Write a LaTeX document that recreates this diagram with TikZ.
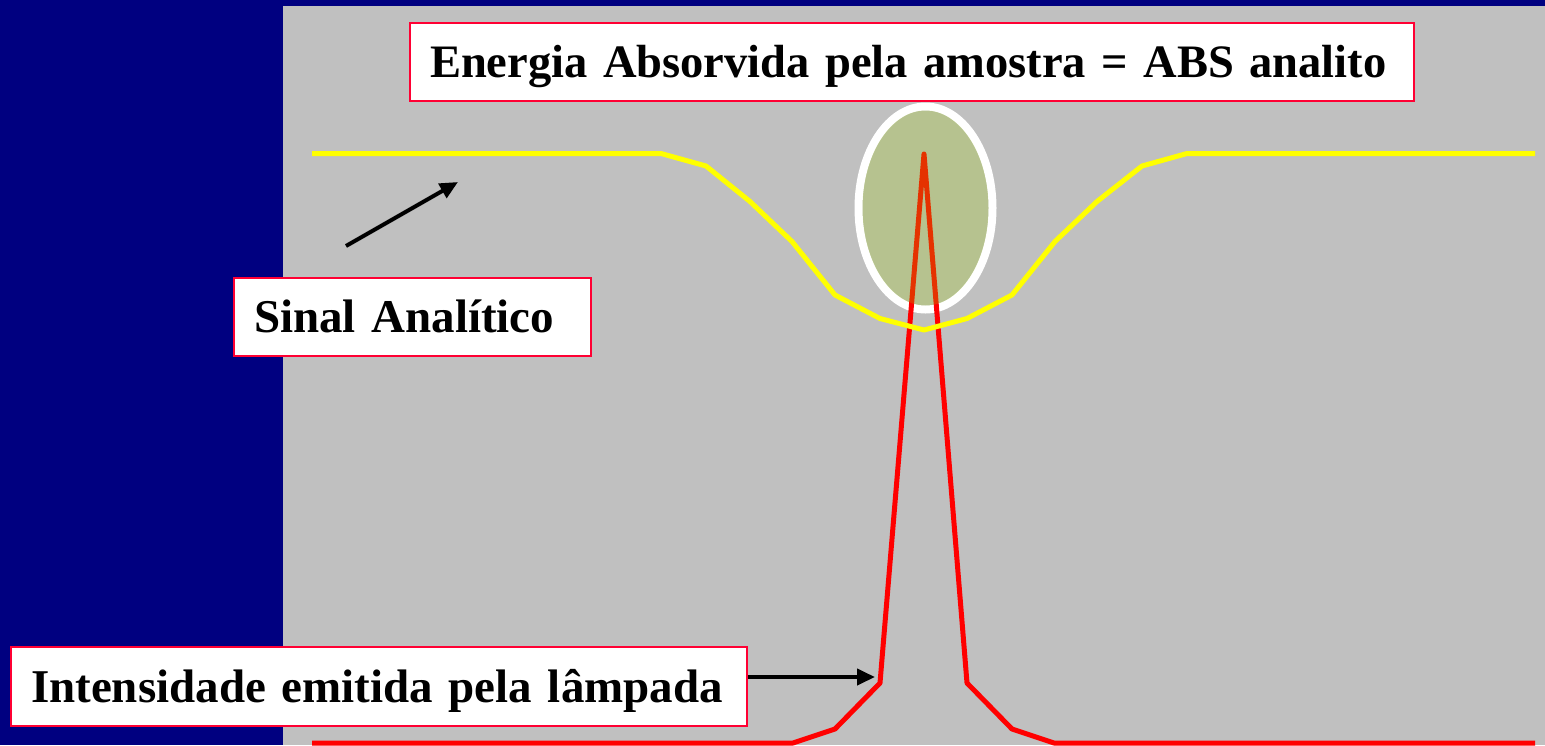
\documentclass[tikz,border=0pt]{standalone}
\usepackage{fontspec}
\setmainfont{Liberation Serif}
\usetikzlibrary{arrows.meta}
\definecolor{navybg}{RGB}{0,0,128}
\definecolor{panelgray}{RGB}{192,192,192}
\definecolor{boxred}{RGB}{255,0,51}
\definecolor{sigyellow}{RGB}{255,255,0}
\definecolor{lampred}{RGB}{255,0,0}
\definecolor{absgreen}{RGB}{153,200,0}
\tikzset{
  labelbox/.style={draw=boxred, line width=2.5pt, fill=white,
    font=\fontsize{47}{56}\selectfont\bfseries, text=black,
    align=left, inner xsep=20pt, inner ysep=0pt,
    text height=31pt, text depth=0pt},
  pointer/.style={draw=black, line width=4pt,
    -{Triangle[length=18pt,width=16pt]}},
  curve/.style={line width=5pt, line join=round}
}
\begin{document}
\begin{tikzpicture}[x=1pt,y=-1pt]
\useasboundingbox (0,0) rectangle (1545,745);
\fill[navybg] (0,0) rectangle (1545,745);
\fill[panelgray] (283,6) rectangle (1545,745);
% ellipse border
\draw[white, line width=8pt] (925.5,208) ellipse [x radius=67, y radius=101.5];
% red emission line
\draw[curve, lampred] (312,743) -- (793,743) -- (835,729) -- (880,683)
  -- (924,154) -- (967,683) -- (1012,729) -- (1054,743) -- (1535,743);
% translucent absorption fill
\fill[absgreen, fill opacity=0.255] (925.5,208) ellipse [x radius=63, y radius=97.5];
% yellow signal line
\draw[curve, sigyellow] (312,153.5) -- (661,153.5) -- (706,166) -- (750,201.5)
  -- (792,241.5) -- (835,295) -- (880,318.5) -- (924,330) -- (967,318.5)
  -- (1012,295) -- (1055,241.5) -- (1097,201.5) -- (1142,166) -- (1187,153.5)
  -- (1535,153.5);
% labels
\node[labelbox, font=\fontsize{46.5}{55}\selectfont\bfseries, text height=30.8pt,
  text width=964pt, minimum height=78pt] (top) at (912,62)
  {\mbox{Energia Absorvida pela amostra = ABS analito}};
\node[labelbox, text width=317pt, minimum height=78pt] (sinal) at (412.5,317)
  {\mbox{Sinal Analítico}};
\node[labelbox, text width=696pt, minimum height=79pt] (intens) at (379,686.5)
  {\mbox{Intensidade emitida pela lâmpada}};
% arrows
\coordinate (a1s) at (346,246);
\coordinate (a1e) at (458,182);
\coordinate (a2s) at (748,677);
\coordinate (a2e) at (875,677);
\draw[pointer] (a1s) -- (a1e);
\draw[pointer] (a2s) -- (a2e);
\end{tikzpicture}
\end{document}
